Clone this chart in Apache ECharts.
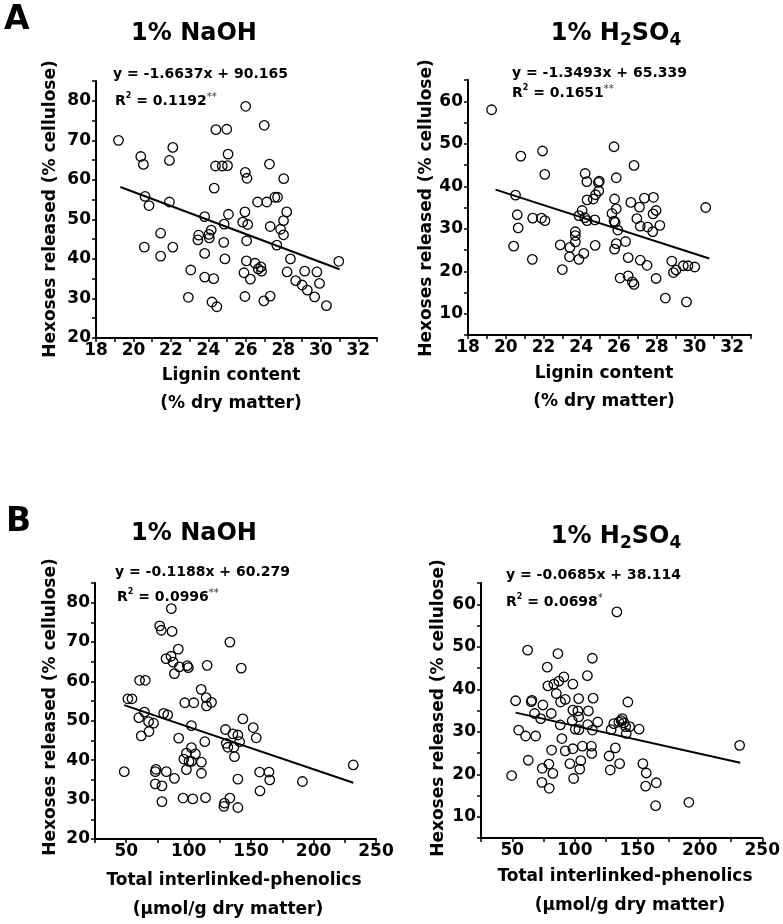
<!DOCTYPE html>
<html><head><meta charset="utf-8">
<script src="https://cdn.jsdelivr.net/npm/echarts@6/dist/echarts.min.js"></script>
<style>html,body{margin:0;padding:0;background:#fff}#c{width:783px;height:924px}</style>
</head><body><div id="c"></div>
<script>
// ---- data: [x, y] ----
const A_NaOH = [[19.20,70.0],[20.39,65.9],[20.53,63.9],[20.62,55.8],[20.83,53.5],[20.58,43.0],[21.45,46.5],[21.45,40.7],[21.92,64.9],[22.10,68.2],[21.92,54.4],[22.10,43.0],[23.06,37.2],[22.93,30.3],[23.44,44.8],[23.48,46.0],[23.80,41.4],[23.80,50.7],[24.03,46.2],[24.05,45.3],[24.15,47.3],[23.80,35.4],[24.28,35.0],[24.19,29.1],[24.45,27.9],[24.31,57.9],[24.38,63.5],[24.40,72.7],[24.74,63.5],[25.02,63.6],[24.98,72.8],[25.05,66.5],[25.07,51.3],[24.84,48.8],[24.82,44.2],[24.88,40.0],[25.99,78.6],[25.97,61.9],[26.06,60.4],[25.95,51.9],[25.83,49.3],[26.10,48.7],[26.04,44.6],[26.03,39.5],[25.90,36.5],[26.24,34.9],[25.95,30.5],[26.98,73.8],[27.26,64.0],[26.63,54.4],[27.12,54.4],[27.30,48.2],[26.49,38.9],[26.66,37.5],[26.80,38.0],[26.84,36.9],[26.96,29.4],[27.30,30.6],[27.55,55.6],[27.69,55.6],[28.02,60.3],[28.18,51.9],[28.01,49.7],[27.85,47.5],[28.01,46.1],[27.65,43.5],[28.38,40.0],[28.20,36.7],[28.66,34.5],[29.00,33.4],[29.28,32.1],[29.14,36.9],[29.67,30.4],[29.79,36.7],[29.93,33.8],[30.30,28.2],[30.96,39.4]];
const A_H2SO4 = [[19.25,58.0],[20.80,47.1],[21.95,48.3],[22.07,42.8],[20.52,37.9],[20.61,33.3],[20.66,30.2],[20.42,25.9],[21.43,32.5],[21.89,32.5],[22.08,31.9],[21.41,22.8],[22.89,26.2],[23.00,20.4],[23.40,25.6],[23.38,23.4],[23.69,29.3],[23.69,28.4],[23.69,26.9],[23.88,22.8],[24.14,24.2],[24.05,34.3],[23.88,33.1],[24.19,32.6],[24.31,31.9],[24.21,43.0],[24.30,41.1],[24.31,36.8],[24.64,37.0],[24.76,38.0],[24.91,40.9],[24.96,41.2],[24.93,38.9],[24.72,32.1],[24.74,26.1],[25.74,49.3],[25.86,42.0],[25.77,37.0],[25.86,34.7],[25.63,33.6],[25.74,31.8],[25.80,31.5],[25.94,29.7],[25.86,26.5],[25.77,25.2],[26.06,18.4],[26.35,27.0],[26.49,23.2],[26.49,18.9],[26.71,17.5],[26.80,16.9],[26.80,44.9],[26.63,36.2],[26.95,32.4],[27.09,35.1],[27.13,30.6],[27.13,22.6],[27.35,37.2],[27.49,21.4],[27.52,30.4],[27.83,37.4],[27.81,33.5],[27.79,29.3],[27.97,34.3],[27.97,18.3],[28.17,30.8],[28.46,13.7],[28.80,22.4],[28.89,19.7],[29.03,20.3],[29.41,21.3],[29.58,12.8],[29.66,21.3],[30.02,21.0],[30.60,35.0]];
const B_NaOH = [[48.4,37.1],[51.3,55.6],[54.6,55.6],[60.7,60.3],[65.3,60.3],[60.1,50.8],[64.6,52.2],[62.0,46.2],[68.2,47.3],[67.9,49.8],[71.9,49.4],[73.3,37.1],[73.8,37.7],[73.3,34.0],[78.6,33.5],[78.6,29.5],[82.1,37.1],[88.6,35.4],[76.8,74.1],[78.1,73.0],[86.7,72.7],[81.9,65.8],[85.9,66.4],[87.5,64.9],[88.6,62.0],[91.7,68.2],[92.5,63.7],[98.9,64.0],[99.7,63.5],[86.1,78.5],[80.0,51.9],[83.2,51.5],[92.0,45.6],[96.9,54.6],[104.1,54.6],[102.2,48.8],[102.2,43.2],[105.4,41.6],[98.2,41.8],[96.1,40.3],[100.3,39.7],[102.2,39.7],[110.2,39.5],[98.2,37.6],[110.2,36.7],[95.5,30.4],[103.3,30.2],[110.0,58.0],[114.0,55.9],[114.3,53.8],[118.3,54.7],[114.8,64.1],[112.9,44.7],[113.5,30.5],[128.7,29.1],[128.2,28.3],[133.0,30.4],[139.4,28.0],[133.0,70.0],[142.1,63.4],[129.5,47.8],[130.1,44.3],[131.4,43.3],[135.4,46.7],[139.4,46.4],[136.2,43.3],[140.8,44.7],[136.7,40.9],[139.4,35.2],[143.4,50.5],[151.7,48.3],[154.1,45.7],[156.8,37.0],[157.1,32.2],[164.3,37.0],[164.9,35.0],[191.1,34.6],[231.8,38.8]];
const B_H2SO4 = [[49.5,19.7],[52.7,37.3],[55.1,30.4],[60.7,29.0],[62.3,49.2],[62.8,23.3],[65.2,37.1],[65.7,37.4],[68.7,29.0],[67.9,34.3],[72.7,33.1],[74.5,36.3],[74.0,21.4],[73.7,18.1],[78.0,45.2],[78.5,40.8],[79.3,22.4],[79.6,16.7],[81.2,34.3],[81.5,25.7],[82.5,20.2],[83.3,41.2],[85.2,39.0],[86.5,48.4],[87.3,41.9],[88.4,31.6],[88.7,37.0],[89.7,28.4],[91.3,42.9],[92.4,37.6],[92.4,25.5],[96.1,22.5],[98.0,32.6],[98.5,41.2],[98.5,35.1],[99.1,19.0],[98.5,26.0],[100.4,30.6],[103.1,37.8],[103.1,33.5],[102.5,34.9],[103.3,30.5],[104.8,23.2],[104.0,21.2],[106.1,26.6],[110.1,43.2],[110.9,34.9],[110.4,31.7],[114.1,47.3],[114.7,37.9],[114.1,30.4],[113.3,26.6],[113.6,24.9],[118.4,32.3],[127.5,24.3],[128.4,21.0],[129.1,30.5],[131.2,31.9],[132.5,26.2],[133.7,58.2],[135.3,32.3],[135.9,22.5],[137.2,32.6],[138.0,33.1],[139.3,32.1],[140.7,31.2],[141.2,29.6],[142.5,37.0],[143.9,31.2],[151.5,30.6],[154.5,22.5],[157.2,20.3],[156.7,17.2],[164.7,12.6],[165.2,18.0],[191.3,13.4],[231.9,26.8]];

// fitted regression line end points (as drawn)
const A_NaOH_fit = [[19.3,58.2],[31.0,37.4]];
const A_H2SO4_fit = [[19.46,39.2],[30.79,23.0]];
const B_NaOH_fit = [[48.4,54.0],[231.8,34.3]];
const B_H2SO4_fit = [[52.7,34.5],[232.4,22.7]];

// axis ranges / tick steps
const ligninAxis = {min:18, max:33, step:1, label:2, labelMax:32, labelMin:18};
const phenolAxis = {min:25, max:250, step:25, label:50, labelMax:250, labelMin:50};
const hexNaOHAxis = {min:20, max:85, step:5, label:10, labelMax:80, labelMin:20};
const hexH2SO4Axis = {min:5, max:65, step:5, label:10, labelMax:60, labelMin:10};

// texts
const panelLetters = ['A','B'];
const titleNaOH = '{m|1% NaOH}';
const titleH2SO4 = '{m|1% H}{s|2}{m|SO}{s|4}';
const eqs = ['y = -1.6637x + 90.165','y = -1.3493x + 65.339','y = -0.1188x + 60.279','y = -0.0685x + 38.114'];
const r2s = ['0.1192','0.1651','0.0996','0.0698'];
const sig = ['**','**','**','*'];
const yName = 'Hexoses released (% cellulose)';
const xNamesA = ['Lignin content','(% dry matter)'];
const xNamesB = ['Total interlinked-phenolics','(\u03bcmol/g dry matter)'];

const FF = 'DejaVu Sans';
const grids = [
  {left:96, top:81, width:281, height:257},
  {left:468, top:80, width:283, height:255},
  {left:95, top:583, width:281, height:256},
  {left:481, top:583, width:282, height:255}
];
function axis(r, gi, isX){
  return {
    type:'value', gridIndex:gi, min:r.min, max:r.max, interval:r.step,
    axisLine:{show:true, onZero:false, lineStyle:{color:'#000', width:2}},
    axisTick:{show:true, inside:false, length:4, lineStyle:{color:'#000', width:1.5}},
    splitLine:{show:false},
    axisLabel:{color:'#000', fontFamily:FF, fontWeight:'bold', fontSize:17, margin:isX?4:5,
      showMinLabel:true, showMaxLabel:true,
      formatter: v => (Math.abs(v % r.label) < 1e-6 && v <= r.labelMax && v >= r.labelMin) ? String(v) : ''}
  };
}
const xAxes = [axis(ligninAxis,0,true), axis(ligninAxis,1,true), axis(phenolAxis,2,true), axis(phenolAxis,3,true)];
const yAxes = [axis(hexNaOHAxis,0,false), axis(hexH2SO4Axis,1,false), axis(hexNaOHAxis,2,false), axis(hexH2SO4Axis,3,false)];

const pts = [A_NaOH, A_H2SO4, B_NaOH, B_H2SO4];
const fits = [A_NaOH_fit, A_H2SO4_fit, B_NaOH_fit, B_H2SO4_fit];
const series = [];
pts.forEach((d,i)=>{
  series.push({type:'line', xAxisIndex:i, yAxisIndex:i, data:fits[i], symbol:'none', silent:true,
    lineStyle:{color:'#000', width:2}, z:2});
  series.push({type:'scatter', xAxisIndex:i, yAxisIndex:i, data:d, symbol:'circle', symbolSize:9.5,
    itemStyle:{color:'rgba(255,255,255,0)', borderColor:'#000', borderWidth:1.3, opacity:1}, z:3});
});

function T(x,y,text,size,extra){
  return {type:'text', x:x, y:y, silent:true,
    style:Object.assign({text:text, fontFamily:FF, fontWeight:'bold', fontSize:size, fill:'#000',
      align:'center', verticalAlign:'middle'}, extra||{})};
}
const titleRich = {
  m:{fontFamily:FF, fontWeight:'bold', fontSize:24, lineHeight:30, fill:'#000'},
  s:{fontFamily:FF, fontWeight:'bold', fontSize:17, lineHeight:17, verticalAlign:'bottom', fill:'#000'}
};
const eqRich = {
  m:{fontFamily:FF, fontWeight:'bold', fontSize:14, lineHeight:18, fill:'#000'},
  p:{fontFamily:FF, fontWeight:'bold', fontSize:8, lineHeight:14, verticalAlign:'top', fill:'#000'},
  a:{fontFamily:FF, fontWeight:'normal', fontSize:10, lineHeight:12, verticalAlign:'top', fill:'#333'}
};
const eqPos = [[113,74,115,101],[512,73,512,93],[115,572,117,597],[506,575,506,602]];
const titlePos = [[194,34,titleNaOH],[616,34,titleH2SO4],[194,534,titleNaOH],[616,537,titleH2SO4]];
const yNamePos = [[51,209],[427,208],[51,707],[439,708]];
const xNamePos = [[231,376,231,404,xNamesA],[604,374,604,402,xNamesA],[234,881,228,910,xNamesB],[625,877,630,906,xNamesB]];

const graphics = [];
graphics.push(T(4,20,panelLetters[0],33,{align:'left'}));
graphics.push(T(6,522,panelLetters[1],33,{align:'left'}));
titlePos.forEach(p=>graphics.push({type:'text', x:p[0], y:p[1], silent:true,
  style:{text:p[2], rich:titleRich, align:'center', verticalAlign:'middle'}}));
eqPos.forEach((p,i)=>{
  graphics.push({type:'text', x:p[0], y:p[1], silent:true,
    style:{text:'{m|'+eqs[i]+'}', rich:eqRich, align:'left', verticalAlign:'middle'}});
  graphics.push({type:'text', x:p[2], y:p[3], silent:true,
    style:{text:'{m|R}{p|2}{m| = '+r2s[i]+'}{a|'+sig[i]+'}', rich:eqRich, align:'left', verticalAlign:'middle'}});
});
yNamePos.forEach(p=>graphics.push(Object.assign(T(p[0],p[1],yName,17),{rotation:Math.PI/2})));
xNamePos.forEach(p=>{
  graphics.push(T(p[0],p[1],p[4][0],17));
  graphics.push(T(p[2],p[3],p[4][1],17));
});

const chart = echarts.init(document.getElementById('c'), null, {renderer:'canvas'});
chart.setOption({
  backgroundColor:'#fff',
  animation:false,
  grid:grids,
  xAxis:xAxes,
  yAxis:yAxes,
  series:series,
  graphic:graphics
});
</script></body></html>
